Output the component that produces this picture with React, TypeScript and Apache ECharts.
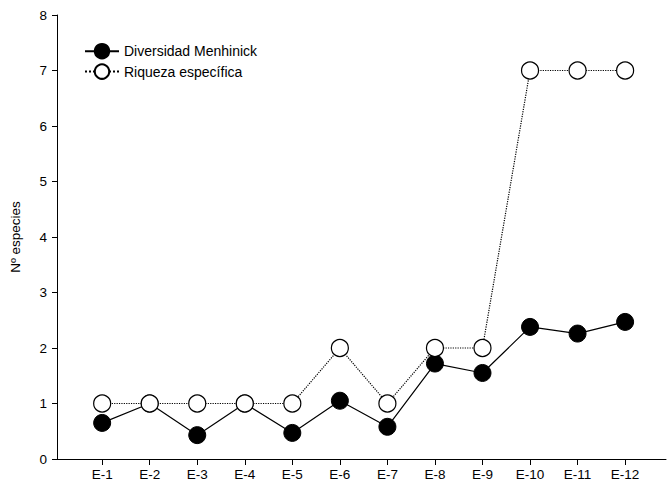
import React, { useEffect, useRef } from "react";
import * as echarts from "echarts";

const categories = ["E-1", "E-2", "E-3", "E-4", "E-5", "E-6", "E-7", "E-8", "E-9", "E-10", "E-11", "E-12"];
const diversidad = [0.65, 1.0, 0.43, 1.0, 0.47, 1.05, 0.58, 1.72, 1.55, 2.38, 2.26, 2.47];
const riqueza = [1, 1, 1, 1, 1, 2, 1, 2, 2, 7, 7, 7];
const yTicks = [0, 1, 2, 3, 4, 5, 6, 7, 8];

export default function App() {
  const ref = useRef<HTMLDivElement>(null);
  useEffect(() => {
    document.body.style.margin = "0";
    if (!ref.current) return;
    const chart = echarts.init(ref.current, null, { renderer: "svg" });
    const positions = categories.map((_, i) => i + 1);
    const font = "Liberation Sans, Arial, sans-serif";
    chart.setOption({
      animation: false,
      textStyle: { fontFamily: font },
      grid: { left: 57, top: 15, right: 1, bottom: 31 },
      legend: {
        orient: "vertical",
        left: 84,
        top: 43,
        padding: 0,
        itemWidth: 34,
        itemHeight: 18,
        itemGap: 4,
        textStyle: { color: "#000", fontSize: 14, fontFamily: font },
        data: ["Diversidad Menhinick", "Riqueza específica"],
      },
      xAxis: {
        type: "value",
        min: 0.05,
        max: 12.86,
        splitLine: { show: false },
        axisLine: { show: true, lineStyle: { color: "#000", width: 1 } },
        axisTick: { show: true, length: 6, lineStyle: { color: "#000" }, customValues: positions },
        axisLabel: {
          color: "#000",
          fontSize: 13.5,
          margin: 8,
          customValues: positions,
          formatter: (v: number) => categories[Math.round(v) - 1] ?? "",
        },
      },
      yAxis: {
        type: "value",
        min: 0,
        max: 8,
        interval: 1,
        name: "Nº especies",
        nameLocation: "middle",
        nameGap: 35,
        nameTextStyle: { color: "#000", fontSize: 13.5 },
        splitLine: { show: false },
        axisLine: { show: true, lineStyle: { color: "#000", width: 1 } },
        axisTick: { show: true, length: 5, lineStyle: { color: "#000" } },
        axisLabel: {
          color: "#000",
          fontSize: 13.5,
          margin: 10,
          customValues: yTicks,
        },
      },
      series: [
        {
          name: "Diversidad Menhinick",
          type: "line",
          data: diversidad.map((v, i) => [positions[i], v]),
          symbol: "circle",
          symbolSize: 17,
          itemStyle: { color: "#000", borderColor: "#000", borderWidth: 1 },
          lineStyle: { color: "#000", width: 1.2, type: "solid" },
          z: 2,
        },
        {
          name: "Riqueza específica",
          type: "line",
          data: riqueza.map((v, i) => [positions[i], v]),
          symbol: "circle",
          symbolSize: 17,
          itemStyle: { color: "#fff", borderColor: "#000", borderWidth: 1.2 },
          lineStyle: { color: "#000", width: 1.2, type: "dotted" },
          z: 3,
        },
      ],
    });
    return () => chart.dispose();
  }, []);
  return <div ref={ref} style={{ width: 667, height: 490 }} />;
}
